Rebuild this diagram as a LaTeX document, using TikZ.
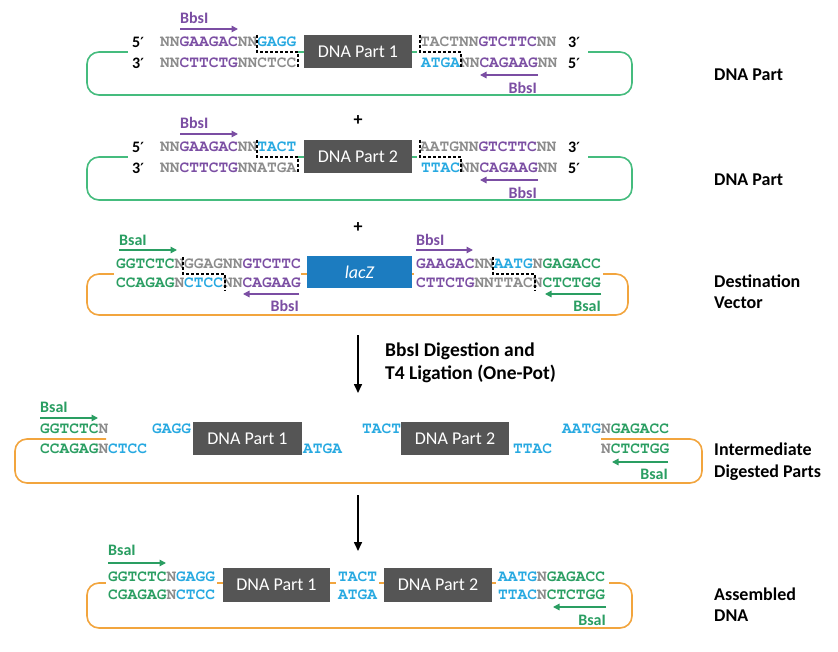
\documentclass[tikz,border=0pt]{standalone}
\usepackage[T1]{fontenc}
\usepackage{fontspec}
\usetikzlibrary{arrows.meta}
\newfontfamily\calfont{Carlito}
\newfontfamily\dvfont{DejaVu Sans}
\newcommand\primemk{{\dvfont\bfseries\fontsize{14}{16}\selectfont ′}}
\newcommand\seqfont{\fontencoding{T1}\fontfamily{pcr}\fontseries{b}\fontshape{n}\fontsize{16.2}{17}\selectfont}
\definecolor{seqgray}{HTML}{8C8C8C}
\definecolor{purp}{HTML}{7B4EA3}
\definecolor{cyanc}{HTML}{27A9E1}
\definecolor{seqgreen}{HTML}{2A9E62}
\definecolor{loopgreen}{HTML}{45BC7E}
\definecolor{loopor}{HTML}{F2A53E}
\definecolor{boxgray}{HTML}{555555}
\definecolor{lacblue}{HTML}{1C7CC0}
\newcommand\Sg[1]{\textcolor{seqgray}{#1}}
\newcommand\Sp[1]{\textcolor{purp}{#1}}
\newcommand\Sc[1]{\textcolor{cyanc}{#1}}
\newcommand\Sn[1]{\textcolor{seqgreen}{#1}}
\tikzset{
  seq/.style={font=\seqfont, inner sep=0pt, anchor=west},
  prime/.style={font=\calfont\bfseries\fontsize{16}{18}\selectfont, inner sep=0pt, anchor=west},
  enz/.style={font=\calfont\bfseries\fontsize{16}{18}\selectfont, inner sep=0pt},
  enzP/.style={draw=purp, line width=1.4pt, -{Triangle[length=6.5pt,width=6.5pt]}},
  enzG/.style={draw=seqgreen, line width=1.4pt, -{Triangle[length=6.5pt,width=6.5pt]}},
  partbox/.style={fill=boxgray, text=white, font=\calfont\fontsize{18}{20}\selectfont, inner sep=0pt},
  lacbox/.style={fill=lacblue, text=white, font=\calfont\itshape\fontsize{18}{20}\selectfont, inner sep=0pt},
  cut/.style={draw=black, line width=1.3pt, dash pattern=on 3pt off 2pt},
  gloop/.style={draw=loopgreen, line width=1.6pt, rounded corners=12pt},
  oloop/.style={draw=loopor, line width=1.6pt, rounded corners=12pt},
  sidelbl/.style={font=\calfont\bfseries\fontsize{18}{20}\selectfont, inner sep=0pt, anchor=base west},
  steplbl/.style={font=\calfont\bfseries\fontsize{19.5}{22}\selectfont, inner sep=0pt, anchor=base west},
  mainarrow/.style={draw=black, line width=1.6pt, -{Triangle[length=9pt,width=8pt]}},
  plus/.style={font=\calfont\bfseries\fontsize{18}{20}\selectfont, inner sep=0pt}
}
\begin{document}
\begin{tikzpicture}[x=1pt,y=-1pt]
\useasboundingbox[fill=white] (0,0) rectangle (838,652);

%% ---------- Section 1: DNA Part 1 ----------
\draw[gloop] (87,52) rectangle (632,95);
\fill[white] (128,34) rectangle (298,70);
\fill[white] (417,34) rectangle (588,70);
\node[prime] (s1p5) at (132,42) {5\primemk};
\node[prime] (s1p3) at (132,63) {3\primemk};
\node[seq] (s1lt) at (160,42) {\Sg{NN}\Sp{GAAGAC}\Sg{NN}\Sc{GAGG}};
\node[seq] (s1lb) at (160,63) {\Sg{NN}\Sp{CTTCTG}\Sg{NNCTCC}};
\node[partbox, minimum width=108pt, minimum height=33pt] (part1a) at (358,51.5) {DNA Part 1};
\node[seq] (s1rt) at (420,42) {\Sg{TACTNN}\Sp{GTCTTC}\Sg{NN}};
\node[seq] (s1rb) at (421,63) {\Sc{ATGA}\Sg{NN}\Sp{CAGAAG}\Sg{NN}};
\node[prime] (s1q3) at (568,42) {3\primemk};
\node[prime] (s1q5) at (568,63) {5\primemk};
\draw[cut] (257,35) -- (257,52) -- (298,52) -- (298,68);
\draw[cut] (420,35) -- (420,52) -- (461,52) -- (461,68);
\node[enz, text=purp, anchor=west] (s1e1) at (180,18) {BbsI};
\draw[enzP] (180,29) coordinate (s1a1) -- (238,29) coordinate (s1b1);
\draw[enzP] (538,75) coordinate (s1a2) -- (480,75) coordinate (s1b2);
\node[enz, text=purp, anchor=east] (s1e2) at (537,88) {BbsI};
\node[sidelbl] (lab1) at (714,80.5) {DNA Part};

\node[plus] (plus1) at (358,121) {+};

%% ---------- Section 2: DNA Part 2 ----------
\draw[gloop] (87,157) rectangle (632,200);
\fill[white] (128,139) rectangle (298,175);
\fill[white] (417,139) rectangle (588,175);
\node[prime] (s2p5) at (132,147) {5\primemk};
\node[prime] (s2p3) at (132,168) {3\primemk};
\node[seq] (s2lt) at (160,147) {\Sg{NN}\Sp{GAAGAC}\Sg{NN}\Sc{TACT}};
\node[seq] (s2lb) at (160,168) {\Sg{NN}\Sp{CTTCTG}\Sg{NNATGA}};
\node[partbox, minimum width=108pt, minimum height=33pt] (part2a) at (358,156.5) {DNA Part 2};
\node[seq] (s2rt) at (420,147) {\Sg{AATGNN}\Sp{GTCTTC}\Sg{NN}};
\node[seq] (s2rb) at (421,168) {\Sc{TTAC}\Sg{NN}\Sp{CAGAAG}\Sg{NN}};
\node[prime] (s2q3) at (568,147) {3\primemk};
\node[prime] (s2q5) at (568,168) {5\primemk};
\draw[cut] (257,140) -- (257,157) -- (298,157) -- (298,173);
\draw[cut] (420,140) -- (420,157) -- (461,157) -- (461,173);
\node[enz, text=purp, anchor=west] (s2e1) at (180,123) {BbsI};
\draw[enzP] (180,134) coordinate (s2a1) -- (238,134) coordinate (s2b1);
\draw[enzP] (538,180) coordinate (s2a2) -- (480,180) coordinate (s2b2);
\node[enz, text=purp, anchor=east] (s2e2) at (537,193) {BbsI};
\node[sidelbl] (lab2) at (714,185.5) {DNA Part};

\node[plus] (plus2) at (358,228) {+};

%% ---------- Section 3: Destination vector ----------
\draw[oloop] (87,274) rectangle (628,315);
\fill[white] (114,255) rectangle (301,292);
\fill[white] (414,255) rectangle (603,292);
\node[seq] (s3lt) at (116,264) {\Sn{GGTCTC}\Sg{NGGAGNN}\Sp{GTCTTC}};
\node[seq] (s3lb) at (116,283) {\Sn{CCAGAG}\Sg{N}\Sc{CTCC}\Sg{NN}\Sp{CAGAAG}};
\node[lacbox, minimum width=105pt, minimum height=32pt] (lacz) at (359.5,272) {lacZ};
\node[seq] (s3rt) at (416,264) {\Sp{GAAGAC}\Sg{NN}\Sc{AATG}\Sg{N}\Sn{GAGACC}};
\node[seq] (s3rb) at (416,283) {\Sp{CTTCTG}\Sg{NNTTACN}\Sn{CTCTGG}};
\draw[cut] (183,257) -- (183,274) -- (225,274) -- (225,291);
\draw[cut] (493,257) -- (493,274) -- (535,274) -- (535,291);
\node[enz, text=seqgreen, anchor=west] (s3e1) at (119,240) {BsaI};
\draw[enzG] (119,250) coordinate (s3a1) -- (177,250) coordinate (s3b1);
\node[enz, text=purp, anchor=west] (s3e2) at (416,240) {BbsI};
\draw[enzP] (416,250) coordinate (s3a2) -- (473,250) coordinate (s3b2);
\draw[enzP] (299,294) coordinate (s3a3) -- (243,294) coordinate (s3b3);
\node[enz, text=purp, anchor=east] (s3e3) at (299,306) {BbsI};
\draw[enzG] (601,294) coordinate (s3a4) -- (545,294) coordinate (s3b4);
\node[enz, text=seqgreen, anchor=east] (s3e4) at (601,306) {BsaI};
\node[sidelbl] (lab3a) at (714,287.5) {Destination};
\node[sidelbl] (lab3b) at (714,308.5) {Vector};

%% ---------- Step arrow 1 ----------
\coordinate (ar1s) at (358,335);
\coordinate (ar1e) at (358,393);
\draw[mainarrow] (ar1s) -- (ar1e);
\node[steplbl] (step1a) at (385,356) {BbsI Digestion and};
\node[steplbl] (step1b) at (385,379) {T4 Ligation (One-Pot)};

%% ---------- Intermediate ----------
\draw[oloop] (106,439) -- (15,439) -- (15,483) -- (702,483) -- (702,439) -- (601,439);
\node[seq] (ilt) at (40,429) {\Sn{GGTCTC}\Sg{N}};
\node[seq] (ilb) at (40,449) {\Sn{CCAGAG}\Sg{N}\Sc{CTCC}};
\node[seq] (ig1) at (152,429) {\Sc{GAGG}};
\node[partbox, minimum width=109pt, minimum height=33pt] (ipart1) at (247.5,438.5) {DNA Part 1};
\node[seq] (ia1) at (303,449) {\Sc{ATGA}};
\node[seq] (it1) at (362,429) {\Sc{TACT}};
\node[partbox, minimum width=108pt, minimum height=33pt] (ipart2) at (455,438.5) {DNA Part 2};
\node[seq] (it2) at (513,449) {\Sc{TTAC}};
\node[seq] (irt) at (562,429) {\Sc{AATG}\Sg{N}\Sn{GAGACC}};
\node[seq] (irb) at (601,449) {\Sg{N}\Sn{CTCTGG}};
\node[enz, text=seqgreen, anchor=west] (ie1) at (40,407) {BsaI};
\draw[enzG] (40,418) coordinate (ia1s) -- (98,418) coordinate (ia1e);
\draw[enzG] (668,462) coordinate (ia2s) -- (612,462) coordinate (ia2e);
\node[enz, text=seqgreen, anchor=east] (ie2) at (668,474) {BsaI};
\node[sidelbl] (lab4a) at (714,455.5) {Intermediate};
\node[sidelbl] (lab4b) at (714,477.5) {Digested Parts};

%% ---------- Step arrow 2 ----------
\coordinate (ar2s) at (358,495);
\coordinate (ar2e) at (358,551);
\draw[mainarrow] (ar2s) -- (ar2e);

%% ---------- Assembled ----------
\draw[oloop] (87,583) rectangle (632,628);
\fill[white] (106,568) rectangle (217,603);
\fill[white] (336,568) rectangle (379,603);
\fill[white] (496,568) rectangle (609,603);
\node[seq] (alt) at (108,577) {\Sn{GGTCTC}\Sg{N}\Sc{GAGG}};
\node[seq] (alb) at (108,595) {\Sn{CGAGAG}\Sg{N}\Sc{CTCC}};
\node[partbox, minimum width=107pt, minimum height=34pt] (apart1) at (276.5,585) {DNA Part 1};
\node[seq] (amt) at (338,577) {\Sc{TACT}};
\node[seq] (amb) at (338,595) {\Sc{ATGA}};
\node[partbox, minimum width=108pt, minimum height=34pt] (apart2) at (438,585) {DNA Part 2};
\node[seq] (art) at (498,577) {\Sc{AATG}\Sg{N}\Sn{GAGACC}};
\node[seq] (arb) at (498,595) {\Sc{TTAC}\Sg{N}\Sn{CTCTGG}};
\node[enz, text=seqgreen, anchor=west] (ae1) at (108,550) {BsaI};
\draw[enzG] (108,563) coordinate (aa1s) -- (166,563) coordinate (aa1e);
\draw[enzG] (606,607) coordinate (aa2s) -- (553,607) coordinate (aa2e);
\node[enz, text=seqgreen, anchor=east] (ae2) at (606,620) {BsaI};
\node[sidelbl] (lab5a) at (714,600.5) {Assembled};
\node[sidelbl] (lab5b) at (714,621.5) {DNA};
\end{tikzpicture}
\end{document}
